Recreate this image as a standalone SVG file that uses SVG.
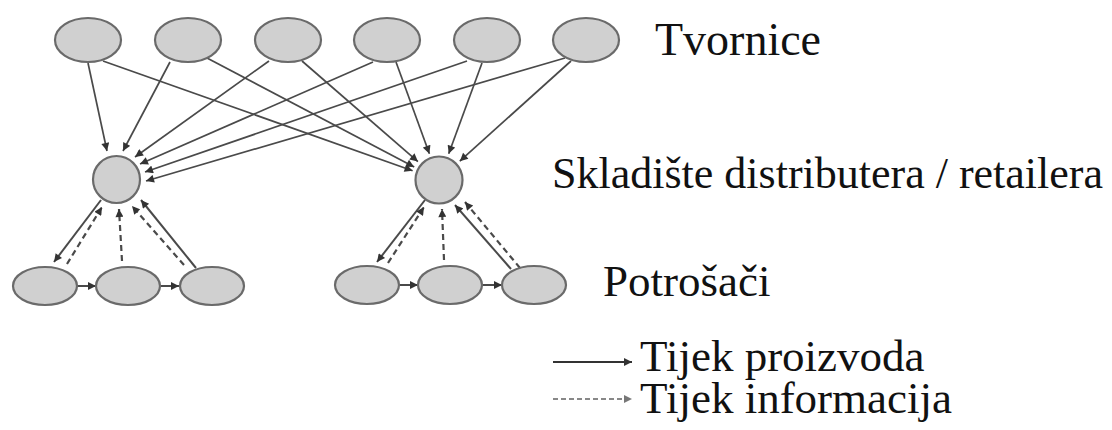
<svg xmlns="http://www.w3.org/2000/svg" width="1112" height="430" viewBox="0 0 1112 430">
<defs>
<style>
.n{fill:#d0d0d0;stroke:#6a6a6a;stroke-width:2.2}
.e{stroke:#4a4a4a;stroke-width:1.7;fill:none}
.s{stroke:#4a4a4a;stroke-width:2;fill:none}
.d{stroke:#4a4a4a;stroke-width:2.2;fill:none;stroke-dasharray:6 4}
.t{fill:#111}
</style>
<marker id="ah" viewBox="0 0 10 10" refX="10" refY="5" markerWidth="10" markerHeight="8" markerUnits="userSpaceOnUse" orient="auto">
<path d="M0,0 L10,5 L0,10 Z" fill="#333"/>
</marker>
<marker id="ahg" viewBox="0 0 10 10" refX="10" refY="5" markerWidth="10" markerHeight="8" markerUnits="userSpaceOnUse" orient="auto">
<path d="M0,0 L10,5 L0,10 Z" fill="#777"/>
</marker>
</defs>
<rect width="1112" height="430" fill="#fff"/>
<g id="connectors">
<line class="e" x1="88" y1="63" x2="107" y2="151" marker-end="url(#ah)"/>
<line class="e" x1="170" y1="62" x2="123" y2="151" marker-end="url(#ah)"/>
<line class="e" x1="269" y1="61" x2="135" y2="157" marker-end="url(#ah)"/>
<line class="e" x1="373" y1="62" x2="140" y2="164" marker-end="url(#ah)"/>
<line class="e" x1="467" y1="61" x2="145" y2="172" marker-end="url(#ah)"/>
<line class="e" x1="565" y1="58" x2="146" y2="181" marker-end="url(#ah)"/>
<line class="e" x1="103" y1="61" x2="412.6" y2="170.7" marker-end="url(#ah)"/>
<line class="e" x1="207" y1="58" x2="414.2" y2="167" marker-end="url(#ah)"/>
<line class="e" x1="302" y1="61" x2="417.9" y2="161.6" marker-end="url(#ah)"/>
<line class="e" x1="396" y1="62" x2="429.4" y2="153.7" marker-end="url(#ah)"/>
<line class="e" x1="482" y1="63" x2="448.7" y2="153.7" marker-end="url(#ah)"/>
<line class="e" x1="571" y1="61" x2="459.8" y2="161.2" marker-end="url(#ah)"/>
<line class="s" x1="101" y1="200" x2="54" y2="262" marker-end="url(#ah)"/>
<line class="d" x1="67" y1="264" x2="102" y2="207" marker-end="url(#ah)"/>
<line class="d" x1="122" y1="261" x2="119" y2="209" marker-end="url(#ah)"/>
<line class="d" x1="184" y1="265" x2="132" y2="206" marker-end="url(#ah)"/>
<line class="s" x1="196" y1="268" x2="141" y2="200" marker-end="url(#ah)"/>
<line class="s" x1="78" y1="286" x2="96" y2="286" marker-end="url(#ah)"/>
<line class="s" x1="161" y1="286" x2="179" y2="286" marker-end="url(#ah)"/>
<line class="s" x1="425" y1="200" x2="377" y2="262" marker-end="url(#ah)"/>
<line class="d" x1="388" y1="263" x2="424" y2="207" marker-end="url(#ah)"/>
<line class="d" x1="444" y1="260" x2="442" y2="209" marker-end="url(#ah)"/>
<line class="s" x1="511" y1="269" x2="455" y2="205" marker-end="url(#ah)"/>
<line class="d" x1="520" y1="268" x2="465" y2="202" marker-end="url(#ah)"/>
<line class="s" x1="400" y1="285" x2="418" y2="285" marker-end="url(#ah)"/>
<line class="s" x1="483" y1="285" x2="502" y2="285" marker-end="url(#ah)"/>
</g>
<g id="top1"><ellipse class="n" cx="88" cy="40" rx="33" ry="22"/></g>
<g id="top2"><ellipse class="n" cx="188" cy="40" rx="33" ry="22"/></g>
<g id="top3"><ellipse class="n" cx="288" cy="40" rx="33" ry="22"/></g>
<g id="top4"><ellipse class="n" cx="387" cy="40" rx="33" ry="22"/></g>
<g id="top5"><ellipse class="n" cx="487" cy="40" rx="33" ry="22"/></g>
<g id="top6"><ellipse class="n" cx="586" cy="40" rx="33" ry="22"/></g>
<g id="whL"><circle class="n" cx="116.5" cy="179.5" r="23.5"/></g>
<g id="whR"><circle class="n" cx="439" cy="180" r="23.5"/></g>
<g id="cL1"><ellipse class="n" cx="45" cy="286" rx="32" ry="19"/></g>
<g id="cL2"><ellipse class="n" cx="128" cy="286" rx="32" ry="19"/></g>
<g id="cL3"><ellipse class="n" cx="212" cy="286" rx="32" ry="19"/></g>
<g id="cR1"><ellipse class="n" cx="367" cy="285" rx="32" ry="19"/></g>
<g id="cR2"><ellipse class="n" cx="450" cy="285" rx="32" ry="19"/></g>
<g id="cR3"><ellipse class="n" cx="534" cy="285" rx="32" ry="19"/></g>
<g id="labels" font-family="'Liberation Serif', 'Times New Roman', 'DejaVu Serif', serif">
<text class="t" x="655" y="55" font-size="46">Tvornice</text>
<text class="t" x="552" y="188" font-size="44">Skladište distributera / retailera</text>
<text class="t" x="603" y="296" font-size="45">Potrošači</text>
</g>
<g id="legend" font-family="'Liberation Serif', 'Times New Roman', 'DejaVu Serif', serif">
<line x1="553" y1="362" x2="632" y2="362" stroke="#333" stroke-width="1.8" marker-end="url(#ah)"/>
<line x1="553" y1="399" x2="632" y2="399" stroke="#888" stroke-width="1.8" stroke-dasharray="5 3" marker-end="url(#ahg)"/>
<text class="t" x="640" y="371" font-size="45">Tijek proizvoda</text>
<text class="t" x="640" y="413" font-size="45">Tijek informacija</text>
</g>
</svg>
